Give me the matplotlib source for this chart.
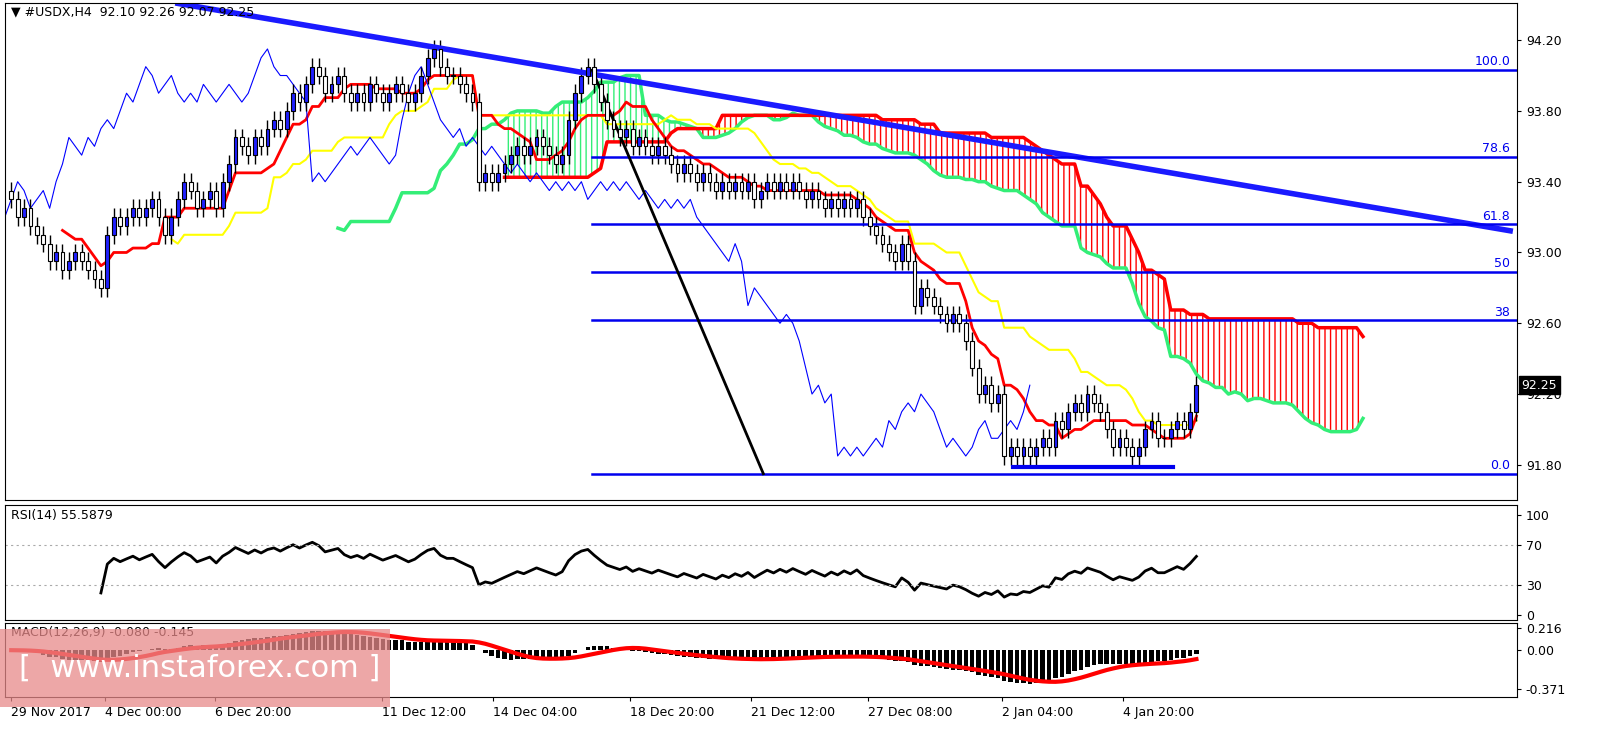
import numpy as np
import matplotlib
matplotlib.use("Agg")
import matplotlib.pyplot as plt
from matplotlib.patches import Rectangle

closes = [93.30,93.20,93.25,93.15,93.10,93.05,92.95,93.00,92.90,92.95,
93.00,92.95,92.90,92.85,92.80,93.10,93.20,93.15,93.20,93.25,
93.20,93.25,93.30,93.20,93.10,93.20,93.30,93.40,93.35,93.25,
93.30,93.35,93.25,93.40,93.50,93.65,93.60,93.55,93.65,93.60,
93.70,93.75,93.70,93.80,93.90,93.85,93.95,94.05,94.00,93.90,
93.95,94.00,93.90,93.85,93.90,93.85,93.95,93.90,93.85,93.90,
93.95,93.90,93.85,93.90,94.00,94.10,94.15,94.05,94.00,94.00,
93.95,93.90,93.85,93.40,93.45,93.40,93.45,93.50,93.55,93.60,
93.55,93.60,93.65,93.60,93.55,93.50,93.55,93.75,93.90,94.00,
94.05,93.95,93.85,93.75,93.70,93.65,93.70,93.60,93.65,93.60,
93.55,93.60,93.55,93.50,93.45,93.50,93.45,93.40,93.45,93.40,
93.35,93.40,93.35,93.40,93.35,93.40,93.30,93.35,93.40,93.35,
93.40,93.35,93.40,93.35,93.30,93.35,93.30,93.25,93.30,93.25,
93.30,93.25,93.30,93.20,93.15,93.10,93.05,93.00,92.95,93.05,
92.95,92.70,92.80,92.75,92.70,92.65,92.60,92.65,92.60,92.50,
92.35,92.20,92.25,92.15,92.20,91.85,91.90,91.85,91.90,91.85,
91.90,91.95,91.90,92.05,92.00,92.10,92.15,92.10,92.20,92.15,
92.10,92.00,91.90,91.95,91.90,91.85,91.90,92.00,92.05,91.95,
91.95,92.00,92.05,92.00,92.10,92.25]
first_open = 93.35
tick_pos = [0, 14.7, 31.8, 57.8, 75.2, 96.6, 115.5, 133.8, 154.7, 173.6]
tick_labels = ["29 Nov 2017", "4 Dec 00:00", "6 Dec 20:00", "11 Dec 12:00", "14 Dec 04:00",
               "18 Dec 20:00", "21 Dec 12:00", "27 Dec 08:00", "2 Jan 04:00", "4 Jan 20:00"]
price_ticks = [94.20, 93.80, 93.40, 93.00, 92.60, 92.20, 91.80]
fib_levels = [100.0, 78.6, 61.8, 50, 38, 0.0]
fib_labels = ["100.0", "78.6", "61.8", "50", "38", "0.0"]
fib_hi, fib_lo = 94.03, 91.75

c = np.array(closes)
n = len(c)
o = np.concatenate([[first_open], c[:-1]])
h = np.maximum(o, c) + 0.05
l = np.minimum(o, c) - 0.05
idx = np.arange(n)

def mid(p):
    r = np.full(n, np.nan)
    for i in range(p - 1, n):
        r[i] = (h[i-p+1:i+1].max() + l[i-p+1:i+1].min()) / 2
    return r
tenkan, kijun, sb = mid(9), mid(26), mid(52)
sa = (tenkan + kijun) / 2
cx = idx + 26

def ema(x, p):
    a = 2 / (p + 1); r = np.zeros_like(x); r[0] = x[0]
    for i in range(1, len(x)): r[i] = a * x[i] + (1 - a) * r[i-1]
    return r
macd = ema(c, 12) - ema(c, 26)
sig = np.convolve(macd, np.ones(9)/9, mode='full')[:n]
d = np.diff(c, prepend=c[0])
g = np.where(d > 0, d, 0); ls = np.where(d < 0, -d, 0)
ag = ema(g, 27); al = ema(ls, 27)
rsi = 100 - 100 / (1 + ag / np.maximum(al, 1e-9))
rsi[:14] = np.nan

fig = plt.figure(figsize=(16.05, 7.4), dpi=100)
L, W = 0.003, 0.942
ax = fig.add_axes([L, 0.324, W, 0.672])
axr = fig.add_axes([L, 0.162, W, 0.156])
axm = fig.add_axes([L, 0.058, W, 0.1])
xl = (-1, 235)
for a in (ax, axr, axm):
    a.set_xlim(*xl)
    a.yaxis.tick_right()
    a.tick_params(axis='y', labelsize=9, length=3)
    a.set_xticks([])

valid = ~np.isnan(sa) & ~np.isnan(sb)
ax.fill_between(cx, sa, sb, where=valid & (sb >= sa), facecolor='none', edgecolor='red',
                hatch='|||', linewidth=0, interpolate=True)
ax.fill_between(cx, sa, sb, where=valid & (sa > sb), facecolor='none', edgecolor='#33ee77',
                hatch='|||', linewidth=0, interpolate=True)
ax.plot(cx, sa, color='#33ee77', lw=2.5)
ax.plot(cx, sb, color='red', lw=2.5)
ax.plot(idx, kijun, color='yellow', lw=1.5)
ax.plot(idx, tenkan, color='red', lw=2)
ax.plot(idx - 26, c, color='blue', lw=0.8)

for i in range(n):
    ax.vlines(i, l[i], h[i], color='black', lw=1)
    up = c[i] >= o[i]
    ax.add_patch(Rectangle((i - 0.3, min(o[i], c[i])), 0.6, max(abs(c[i]-o[i]), 0.004),
                           facecolor='#2020ff' if up else 'white', edgecolor='black', lw=0.8, zorder=3))

ax.plot([25.6, 234.4], [94.41, 93.12], color='#1a1aff', lw=4, solid_capstyle='butt')
for lv, lb in zip(fib_levels, fib_labels):
    y = fib_lo + (fib_hi - fib_lo) * lv / 100
    ax.plot([90.7, 235], [y, y], color='#0000ee', lw=1.8)
    ax.text(234, y + 0.01, lb, color='#0000ee', ha='right', va='bottom', fontsize=9)
ax.plot([90.7, 117.4], [fib_hi, fib_lo], color='black', lw=2)
ax.plot([156.4, 181.4], [91.79, 91.79], color='#0000ee', lw=3)

ax.set_ylim(91.60, 94.41)
ax.set_yticks(price_ticks)
ax.set_yticklabels([f"{p:.2f}" for p in price_ticks])
ax.text(1.003, (92.25 - 91.60) / (94.41 - 91.60), "92.25", transform=ax.transAxes, fontsize=9,
        color='white', va='center', bbox=dict(facecolor='black', edgecolor='black', pad=2))
ax.text(0.004, 0.995, "\u25BC #USDX,H4  92.10 92.26 92.07 92.25", transform=ax.transAxes,
        fontsize=9, va='top')

axr.plot(idx, rsi, color='black', lw=2)
for lv in (70, 30):
    axr.axhline(lv, color='#aaaaaa', lw=0.8, ls=(0, (2, 3)))
axr.set_ylim(-5, 110)
axr.set_yticks([100, 70, 30, 0])
axr.text(0.004, 0.96, "RSI(14) 55.5879", transform=axr.transAxes, fontsize=9, va='top')

axm.bar(idx, macd, width=0.7, color='black')
axm.plot(idx, sig, color='red', lw=3)
axm.set_ylim(-0.45, 0.26)
axm.set_yticks([0.216, 0.0, -0.371])
axm.set_yticklabels(["0.216", "0.00", "-0.371"])
axm.text(0.004, 0.96, "MACD(12,26,9) -0.080 -0.145", transform=axm.transAxes, fontsize=9, va='top')
axm.set_xticks(tick_pos)
axm.set_xticklabels(tick_labels, ha='left', fontsize=9)
axm.tick_params(axis='x', length=3)

fig.patches.append(Rectangle((0.0, 0.045), 0.243, 0.105, transform=fig.transFigure,
                             facecolor='#e88a8a', alpha=0.75, edgecolor='none', zorder=10))
fig.text(0.012, 0.097, "[  www.instaforex.com ]", color='white', fontsize=22, va='center', zorder=11)

fig.savefig("out.png", dpi=100)
